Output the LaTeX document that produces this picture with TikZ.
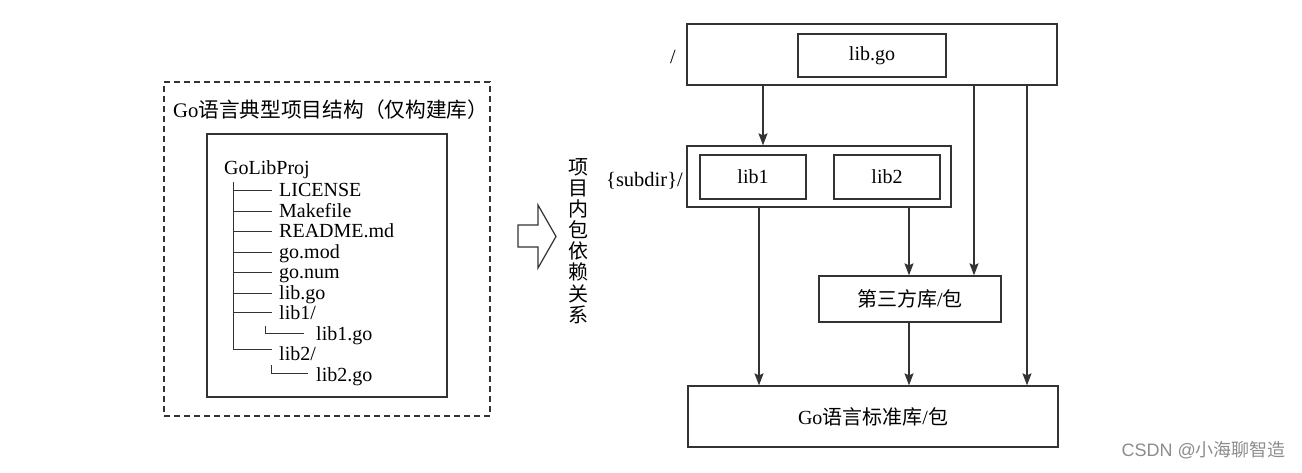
\documentclass[tikz,border=0pt]{standalone}
\usepackage{fontspec}
\setmainfont{Liberation Serif}
\newfontfamily\cjk{Noto Sans CJK SC}
\newfontfamily\wmfont{Liberation Sans}
\usetikzlibrary{arrows.meta,calc}
\definecolor{linec}{HTML}{333333}
\definecolor{wmc}{HTML}{8C8C8C}
\begin{document}
\begin{tikzpicture}[x=1pt,y=-1pt,
  ln/.style={draw=linec, line width=1.3pt},
  box/.style={ln, fill=white, inner sep=0pt, font=\fontsize{20}{24}\selectfont},
  arr/.style={ln, -{Stealth[length=12pt,width=9pt,inset=2pt]}},
  tr/.style={anchor=base west, inner sep=0pt, font=\fontsize{20}{24}\selectfont},
  tline/.style={draw=linec, line width=0.9pt},
  lbl/.style={inner sep=0pt, font=\fontsize{20}{24}\selectfont}]
\useasboundingbox (0,0) rectangle (1302,473);

% ---------- left: project structure ----------
\node[draw=linec, dash pattern=on 6pt off 4pt, line width=1.3pt, minimum width=326pt, minimum height=334pt, inner sep=0pt] (outer) at (327,249) {};
\node[inner sep=0pt, anchor=west, font=\fontsize{20.7}{24}\selectfont] (title) at (173,110) {Go{\cjk 语言典型项目结构（仅构建库）}};
\node[ln, minimum width=240pt, minimum height=263pt, inner sep=0pt] (inner) at (327,265.5) {};

\node[tr] (t0) at (224,175) {GoLibProj};
\node[tr] (t1) at (279,197) {LICENSE};
\node[tr] (t2) at (279,217.5) {Makefile};
\node[tr] (t3) at (279,238) {README.md};
\node[tr] (t4) at (279,258.5) {go.mod};
\node[tr] (t5) at (279,279) {go.num};
\node[tr] (t6) at (279,299.5) {lib.go};
\node[tr] (t7) at (279,319.5) {lib1/};
\node[tr] (t8) at (316,340) {lib1.go};
\node[tr] (t9) at (279,360.5) {lib2/};
\node[tr] (t10) at (316,381) {lib2.go};

% tree branches
\draw[tline] (233,182) -- (233,349) -- (272,349);
\foreach \yy in {190,211,231.5,252,272.5,293,312.5}
  \draw[tline] (233,\yy) -- (272,\yy);
\draw[tline] (265,326) -- (265,333) -- (304,333);
\draw[tline] (271,365) -- (271,373) -- (308,373);

% ---------- middle: hollow arrow and vertical label ----------
\draw[draw=linec, line width=1.2pt, fill=white] (518,225) -- (538,225) -- (538,205) -- (556,236.5) -- (538,268) -- (538,247) -- (518,247) -- cycle;
\node[inner sep=0pt, align=center, font=\cjk\fontsize{20}{21.1}\selectfont] (vt) at (578,241) {项\\目\\内\\包\\依\\赖\\关\\系};

% ---------- right: dependency diagram ----------
\node[box, minimum width=370pt, minimum height=61pt] (root) at (872,54.5) {};
\node[box, minimum width=148pt, minimum height=43pt] (libgo) at (872,55.5) {lib.go};
\node[box, minimum width=264pt, minimum height=61pt] (sub) at (819,176.5) {};
\node[box, minimum width=106pt, minimum height=44pt] (lib1) at (753,177) {lib1};
\node[box, minimum width=106pt, minimum height=44pt] (lib2) at (887,177) {lib2};
\node[box, minimum width=182pt, minimum height=46pt] (third) at (910,299) {{\cjk 第三方库}/{\cjk 包}};
\node[box, minimum width=370pt, minimum height=61pt] (std) at (873,416.5) {Go{\cjk 语言标准库}/{\cjk 包}};

\node[lbl] (slash) at (673,57) {/};
\node[lbl, anchor=east, font=\fontsize{20.5}{24}\selectfont] (subdir) at (683,181) {\{subdir\}/};

\coordinate (xa) at (763,0);
\coordinate (xb) at (759,0);
\coordinate (xc) at (909,0);
\coordinate (xd) at (974,0);
\coordinate (xe) at (1027,0);
\draw[arr] (root.south -| xa) -- (sub.north -| xa);
\draw[arr] (sub.south -| xb) -- (std.north -| xb);
\draw[arr] (sub.south -| xc) -- (third.north -| xc);
\draw[arr] (root.south -| xd) -- (third.north -| xd);
\draw[arr] (third.south -| xc) -- (std.north -| xc);
\draw[arr] (root.south -| xe) -- (std.north -| xe);

\node[anchor=east, inner sep=0pt, text=wmc, font=\wmfont\fontsize{18}{21}\selectfont] (wm) at (1286,450) {CSDN @{\cjk 小海聊智造}};
\end{tikzpicture}
\end{document}
